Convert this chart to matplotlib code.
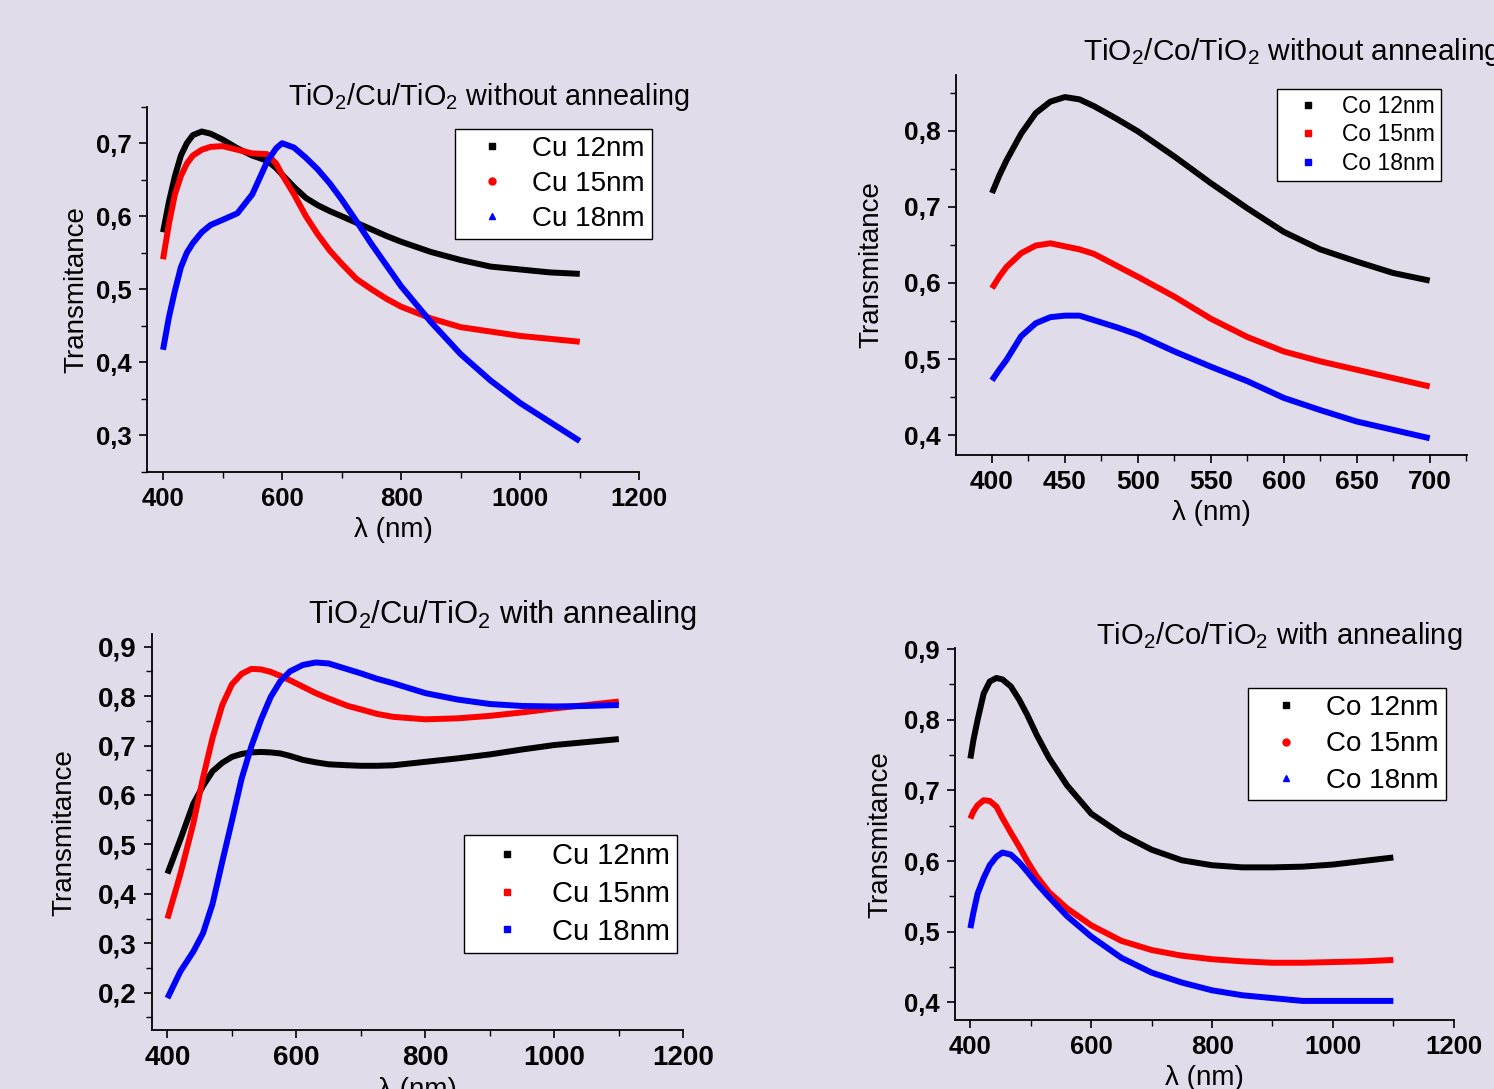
"""
Transmittance spectra of TiO2/Cu/TiO2 and TiO2/Co/TiO2 stacks, with and without annealing.
"""

import matplotlib.pyplot as plt
from matplotlib.lines import Line2D
from matplotlib.ticker import MultipleLocator, FuncFormatter

plt.rcParams['font.family'] = ['Liberation Sans', 'DejaVu Sans']
plt.rcParams['mathtext.fontset'] = 'custom'
plt.rcParams['mathtext.rm'] = 'Liberation Sans'
plt.rcParams['mathtext.it'] = 'Liberation Sans:italic'
plt.rcParams['mathtext.bf'] = 'Liberation Sans:bold'

BG = '#e0dcea'
COLORS = ['black', '#ff0000', '#0000ff']

# --- Cu, without annealing ---
cu_raw_wl = [400, 410, 420, 430, 440, 450, 465, 480, 500, 525, 550, 575, 590, 600,
             620, 640, 660, 680, 700, 725, 750, 775, 800, 850, 900, 950, 1000, 1050, 1100]
cu_raw_12 = [0.578, 0.620, 0.655, 0.683, 0.700, 0.711, 0.716, 0.713, 0.705, 0.693, 0.683,
             0.676, 0.666, 0.657, 0.640, 0.625, 0.615, 0.607, 0.600, 0.591, 0.582, 0.573,
             0.565, 0.551, 0.540, 0.531, 0.527, 0.523, 0.521]
cu_raw_15 = [0.541, 0.590, 0.630, 0.655, 0.672, 0.683, 0.691, 0.695, 0.696, 0.691, 0.686,
             0.685, 0.672, 0.657, 0.630, 0.600, 0.575, 0.553, 0.535, 0.514, 0.500, 0.487,
             0.476, 0.460, 0.448, 0.442, 0.436, 0.432, 0.428]
cu_raw_18 = [0.417, 0.462, 0.498, 0.530, 0.550, 0.563, 0.578, 0.588, 0.595, 0.604, 0.630,
             0.675, 0.693, 0.700, 0.694, 0.680, 0.664, 0.645, 0.623, 0.593, 0.562, 0.533,
             0.504, 0.455, 0.411, 0.375, 0.344, 0.318, 0.292]

# --- Co, without annealing ---
co_raw_wl = [400, 405, 410, 420, 430, 440, 450, 460, 470, 485, 500, 525, 550, 575, 600,
             625, 650, 675, 700]
co_raw_12 = [0.718, 0.741, 0.761, 0.796, 0.823, 0.838, 0.844, 0.841, 0.832, 0.816, 0.799,
             0.766, 0.731, 0.698, 0.667, 0.644, 0.628, 0.613, 0.603]
co_raw_15 = [0.593, 0.608, 0.621, 0.639, 0.649, 0.652, 0.648, 0.644, 0.638, 0.623, 0.608,
             0.582, 0.553, 0.529, 0.510, 0.497, 0.486, 0.475, 0.464]
co_raw_18 = [0.472, 0.486, 0.499, 0.530, 0.547, 0.555, 0.557, 0.557, 0.551, 0.542, 0.532,
             0.510, 0.490, 0.471, 0.449, 0.433, 0.418, 0.407, 0.396]

# --- Cu, with annealing ---
cu_ann_wl = [400, 420, 440, 455, 470, 485, 500, 515, 530, 545, 560, 575, 590, 610, 630,
             650, 680, 700, 725, 750, 800, 850, 900, 950, 1000, 1050, 1100]
cu_ann_12 = [0.441, 0.510, 0.582, 0.618, 0.648, 0.665, 0.677, 0.683, 0.686, 0.687, 0.686,
             0.684, 0.679, 0.671, 0.666, 0.662, 0.660, 0.659, 0.659, 0.660, 0.667, 0.674,
             0.682, 0.692, 0.701, 0.707, 0.713]
cu_ann_15 = [0.350, 0.440, 0.542, 0.634, 0.716, 0.782, 0.824, 0.845, 0.855, 0.854, 0.849,
             0.841, 0.832, 0.819, 0.806, 0.795, 0.780, 0.773, 0.764, 0.758, 0.753, 0.755,
             0.760, 0.767, 0.775, 0.782, 0.789]
cu_ann_18 = [0.189, 0.243, 0.283, 0.320, 0.380, 0.465, 0.548, 0.633, 0.698, 0.752, 0.798,
             0.830, 0.850, 0.863, 0.868, 0.866, 0.854, 0.846, 0.835, 0.826, 0.806, 0.793,
             0.784, 0.780, 0.779, 0.780, 0.782]

# --- Co, with annealing ---
co_ann_wl = [400, 405, 412, 422, 432, 443, 453, 467, 481, 494, 510, 530, 560, 600, 650,
             700, 750, 800, 850, 900, 950, 1000, 1050, 1100]
co_ann_12 = [0.745, 0.771, 0.800, 0.837, 0.854, 0.859, 0.857, 0.847, 0.828, 0.807, 0.778,
             0.746, 0.707, 0.667, 0.638, 0.616, 0.601, 0.594, 0.591, 0.591, 0.592, 0.595,
             0.600, 0.605]
co_ann_15 = [0.660, 0.670, 0.679, 0.686, 0.685, 0.677, 0.661, 0.640, 0.620, 0.600, 0.578,
             0.556, 0.533, 0.509, 0.487, 0.474, 0.466, 0.461, 0.458, 0.456, 0.456, 0.457,
             0.458, 0.460]
co_ann_18 = [0.505, 0.527, 0.554, 0.576, 0.594, 0.606, 0.612, 0.609, 0.598, 0.585, 0.568,
             0.549, 0.522, 0.493, 0.463, 0.442, 0.428, 0.417, 0.410, 0.406, 0.402, 0.402,
             0.402, 0.402]

cu_labels = ['Cu 12nm', 'Cu 15nm', 'Cu 18nm']
co_labels = ['Co 12nm', 'Co 15nm', 'Co 18nm']

W, H = 1494, 1089


def px_rect(left, top, right, bottom):
    """Axes rectangle from pixel edges."""
    return [left / W, 1 - bottom / H, (right - left) / W, (bottom - top) / H]


def comma(v, pos):
    return f'{v:.1f}'.replace('.', ',')


def draw_panel(fig, rect, wl, series, labels, markers, xlim, ylim, xmajor, xminor,
               tick_size, ylabel_pad, title, title_xy, title_size,
               legend_corner, legend_size, handlelength, handletextpad, labelspacing):
    ax = fig.add_axes(rect)
    ax.set_facecolor(BG)
    for y, c in zip(series, COLORS):
        ax.plot(wl, y, color=c, lw=4.3, solid_joinstyle='round', solid_capstyle='butt')
    ax.set_xlim(*xlim)
    ax.set_ylim(*ylim)

    for side in ['top', 'right']:
        ax.spines[side].set_visible(False)
    for side in ['left', 'bottom']:
        ax.spines[side].set_linewidth(1.3)

    ax.xaxis.set_major_locator(MultipleLocator(xmajor))
    ax.xaxis.set_minor_locator(MultipleLocator(xminor))
    ax.yaxis.set_major_locator(MultipleLocator(0.1))
    ax.yaxis.set_minor_locator(MultipleLocator(0.05))
    ax.yaxis.set_major_formatter(FuncFormatter(comma))
    ax.tick_params(which='major', direction='out', length=6, width=1.2,
                   labelsize=tick_size, pad=5)
    ax.tick_params(which='minor', direction='out', length=4, width=1.0)
    for lab in ax.get_xticklabels() + ax.get_yticklabels():
        lab.set_fontweight('bold')

    ax.set_xlabel('λ (nm)', fontsize=20, labelpad=4)
    ax.set_ylabel('Transmitance', fontsize=20, labelpad=ylabel_pad)

    fig.text(title_xy[0] / W, 1 - title_xy[1] / H, title, fontsize=title_size,
             ha='left', va='baseline')

    handles = [Line2D([], [], ls='none', marker=m, ms=5, color=c)
               for m, c in zip(markers, COLORS)]
    leg = ax.legend(handles, labels, loc='upper right',
                    bbox_to_anchor=(legend_corner[0] / W, 1 - legend_corner[1] / H),
                    bbox_transform=fig.transFigure, borderaxespad=0,
                    fontsize=legend_size, frameon=True, fancybox=False,
                    edgecolor='black', framealpha=1, handlelength=handlelength,
                    handletextpad=handletextpad, borderpad=0.25,
                    labelspacing=labelspacing)
    leg.get_frame().set_linewidth(1.0)
    return ax


fig = plt.figure(figsize=(W / 100, H / 100), dpi=100, facecolor=BG)

draw_panel(fig, px_rect(147.3, 106.7, 639.3, 471.7), cu_raw_wl,
           [cu_raw_12, cu_raw_15, cu_raw_18], cu_labels, ['s', 'o', '^'],
           (373.6, 1200), (0.25, 0.75), 200, 100, 18.5, 5,
           r'TiO$_2$/Cu/TiO$_2$ without annealing', (288, 105), 20.7,
           (652, 129), 20, 2.1, 0.42, 0.32)

draw_panel(fig, px_rect(955.8, 75, 1467, 455), co_raw_wl,
           [co_raw_12, co_raw_15, co_raw_18], co_labels, ['s', 's', 's'],
           (375.2, 725.6), (0.374, 0.873), 50, 25, 19, 14,
           r'TiO$_2$/Co/TiO$_2$ without annealing', (1083, 60), 21.5,
           (1441, 89), 16.5, 2.2, 0.39, 0.25)

draw_panel(fig, px_rect(152, 634.3, 683.3, 1030), cu_ann_wl,
           [cu_ann_12, cu_ann_15, cu_ann_18], cu_labels, ['s', 's', 's'],
           (376, 1200), (0.1245, 0.925), 200, 100, 20, 15,
           r'TiO$_2$/Cu/TiO$_2$ with annealing', (308, 623), 22.2,
           (677, 835), 21, 2.45, 0.32, 0.33)

draw_panel(fig, px_rect(955.4, 648.3, 1453.75, 1020), co_ann_wl,
           [co_ann_12, co_ann_15, co_ann_18], co_labels, ['s', 'o', '^'],
           (375.2, 1200), (0.375, 0.901), 200, 100, 18.5, 8,
           r'TiO$_2$/Co/TiO$_2$ with annealing', (1096, 644), 21,
           (1446, 688), 20, 2.3, 0.29, 0.37)

fig.savefig('out.png', dpi=100, facecolor=BG)
